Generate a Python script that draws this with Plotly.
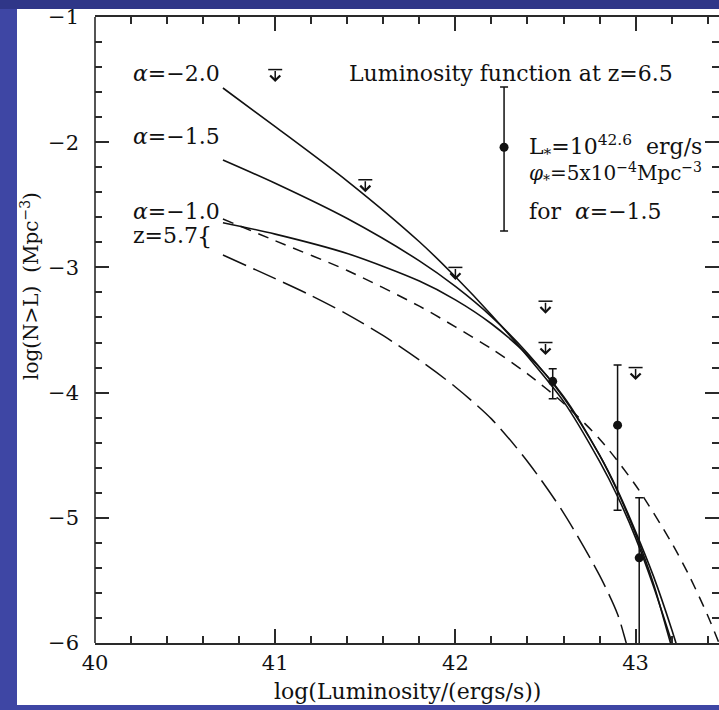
import plotly.graph_objects as go

# ---- cumulative Lyman-alpha luminosity functions, log N(>L) vs log L ----
lum_alpha = [40.71, 41.0, 41.4, 41.8, 42.0, 42.2, 42.4, 42.6, 42.8, 42.9, 43.0, 43.1, 43.2, 43.26]
logn_alpha_m20 = [-1.567, -1.875, -2.31, -2.795, -3.075, -3.38, -3.71, -4.07, -4.55, -4.83, -5.16, -5.55, -5.99, -6.27]
logn_alpha_m15 = [-2.142, -2.328, -2.61, -2.948, -3.152, -3.393, -3.685, -4.04, -4.50, -4.78, -5.11, -5.47, -5.89, -6.17]
logn_alpha_m10 = [-2.643, -2.734, -2.889, -3.109, -3.259, -3.45, -3.70, -4.03, -4.50, -4.79, -5.13, -5.53, -6.03, -6.30]

# z = 5.7 luminosity function (short dashes)
lum_z57 = [40.71, 41.0, 41.4, 41.8, 42.0, 42.2, 42.4, 42.6, 42.8, 43.0, 43.2, 43.3, 43.4, 43.46, 43.5]
logn_z57 = [-2.613, -2.787, -3.025, -3.31, -3.475, -3.65, -3.85, -4.085, -4.37, -4.74, -5.20, -5.47, -5.78, -5.99, -6.13]

# long-dashed curve
lum_long = [40.71, 41.0, 41.2, 41.4, 41.6, 41.8, 42.0, 42.2, 42.4, 42.6, 42.8, 42.9, 42.95, 43.0]
logn_long = [-2.901, -3.09, -3.225, -3.375, -3.545, -3.74, -3.955, -4.21, -4.55, -4.96, -5.46, -5.77, -6.01, -6.25]

# measured points with asymmetric errors
det_lum = [42.27, 42.54, 42.90, 43.02]
det_logn = [-2.04, -3.91, -4.26, -5.32]
det_err_up = [0.48, 0.10, 0.48, 0.48]
det_err_down = [0.67, 0.14, 0.68, 1.30]

# upper limits
lim_lum = [41.0, 41.5, 42.0, 42.5, 42.5, 43.0]
lim_logn = [-1.42, -2.30, -3.00, -3.27, -3.60, -3.80]

x_ticks = [40, 41, 42, 43]
y_ticks = [-1, -2, -3, -4, -5, -6]

FONT = "DejaVu Serif"
INK = "#111111"
AXC = "#2a2a2a"
ARROW_LEN = 0.10

fig = go.Figure()

solid = dict(color=INK, width=1.6, shape="spline", smoothing=0.8)
for ys in (logn_alpha_m20, logn_alpha_m15, logn_alpha_m10):
    fig.add_trace(go.Scatter(x=lum_alpha, y=ys, mode="lines", line=solid, hoverinfo="skip"))

fig.add_trace(go.Scatter(x=lum_z57, y=logn_z57, mode="lines",
                         line=dict(color=INK, width=1.5, dash="11px,8px", shape="spline", smoothing=0.8)))
fig.add_trace(go.Scatter(x=lum_long, y=logn_long, mode="lines",
                         line=dict(color=INK, width=1.5, dash="25px,8px", shape="spline", smoothing=0.8)))

# detections
fig.add_trace(go.Scatter(
    x=det_lum, y=det_logn, mode="markers",
    marker=dict(color=INK, size=9),
    error_y=dict(type="data", symmetric=False, array=det_err_up, arrayminus=det_err_down,
                 color=INK, thickness=1.5, width=4),
))

# upper limits: horizontal bar plus downward arrow
fig.add_trace(go.Scatter(
    x=lim_lum, y=lim_logn, mode="markers",
    marker=dict(symbol="line-ew", size=10, line=dict(color=INK, width=1.5)),
))
for xv, yv in zip(lim_lum, lim_logn):
    fig.add_annotation(x=xv, y=yv - ARROW_LEN, ax=xv, ay=yv, xref="x", yref="y",
                       axref="x", ayref="y", text="", showarrow=True,
                       arrowhead=4, arrowsize=1.3, arrowwidth=1.5, arrowcolor=INK)

txt = dict(family=FONT, size=22, color=INK)
labels = [
    (40.204, -1.45, "<i>α</i>=−2.0", 22),
    (40.204, -1.956, "<i>α</i>=−1.5", 22),
    (40.204, -2.555, "<i>α</i>=−1.0", 22),
    (40.204, -2.745, "z=5.7", 22),
    (41.406, -1.45, "Luminosity function at z=6.5", 22),
    (42.405, -2.036, "L<sub>*</sub>=10<sup>42.6</sup>&nbsp;&nbsp;erg/s", 22),
    (42.405, -2.249, "<i>φ</i><sub>*</sub>=5x10<sup>−4</sup>Mpc<sup>−3</sup>", 20),
    (42.405, -2.555, "for&nbsp;&nbsp;<i>α</i>=−1.5", 22),
]
for xv, yv, s, fs in labels:
    fig.add_annotation(x=xv, y=yv, xref="x", yref="y", text=s, showarrow=False,
                       xanchor="left", yanchor="middle",
                       font=dict(family=FONT, size=fs, color=INK), borderpad=0)
fig.add_annotation(x=40.605, y=-2.75, xref="x", yref="y", text="{", showarrow=False,
                   xanchor="center", yanchor="middle",
                   font=dict(family=FONT, size=24, color=INK), borderpad=0)

# axis titles
fig.add_annotation(x=0.5, y=-0.0767, xref="paper", yref="paper",
                   text="log(Luminosity/(ergs/s))", showarrow=False,
                   xanchor="center", yanchor="middle", font=txt)
fig.add_annotation(x=-0.1042, y=0.5703, xref="paper", yref="paper",
                   text="log(N&gt;L)  (Mpc<sup>−3</sup>)", showarrow=False, textangle=-90,
                   xanchor="center", yanchor="middle",
                   font=dict(family=FONT, size=20, color=INK))

# frame: blue surround, white panel
fig.add_shape(type="rect", xref="paper", yref="paper", x0=-0.125, x1=1.02, y0=-0.099, y1=1.0128,
              fillcolor="white", line=dict(width=0), layer="below")
fig.add_shape(type="rect", xref="paper", yref="paper", x0=-0.2, x1=1.02, y0=1.0128, y1=1.03,
              fillcolor="#2f3688", line=dict(width=0), layer="below")
fig.add_shape(type="line", xref="paper", yref="paper", x0=0, x1=0, y0=0, y1=1,
              line=dict(color=AXC, width=1.6))

tickfont = dict(family=FONT, size=21, color=INK)
fig.update_xaxes(range=[40, 43.4628], tickmode="array", tickvals=x_ticks,
                 ticktext=[str(v) for v in x_ticks],
                 ticks="inside", ticklen=14, tickwidth=1.5, tickcolor=AXC,
                 showline=True, linewidth=1.6, linecolor=AXC, mirror="ticks",
                 showgrid=False, zeroline=False, tickfont=tickfont,
                 minor=dict(dtick=0.2, tick0=40, ticks="inside", ticklen=7, tickwidth=1.5,
                            tickcolor=AXC, showgrid=False))
fig.update_yaxes(range=[-6, -1], tickmode="array", tickvals=y_ticks,
                 ticks="inside", ticklen=14, tickwidth=1.5, tickcolor=AXC,
                 showline=False, mirror="ticks", ticklabelstandoff=15,
                 showgrid=False, zeroline=False, tickfont=tickfont,
                 minor=dict(dtick=0.2, tick0=-6, ticks="inside", ticklen=7, tickwidth=1.5,
                            tickcolor=AXC, showgrid=False))

fig.update_layout(width=719, height=710, margin=dict(l=95, r=0, t=17, b=67),
                  paper_bgcolor="#3e46a4", plot_bgcolor="white", showlegend=False)

fig.write_html("out.html")
